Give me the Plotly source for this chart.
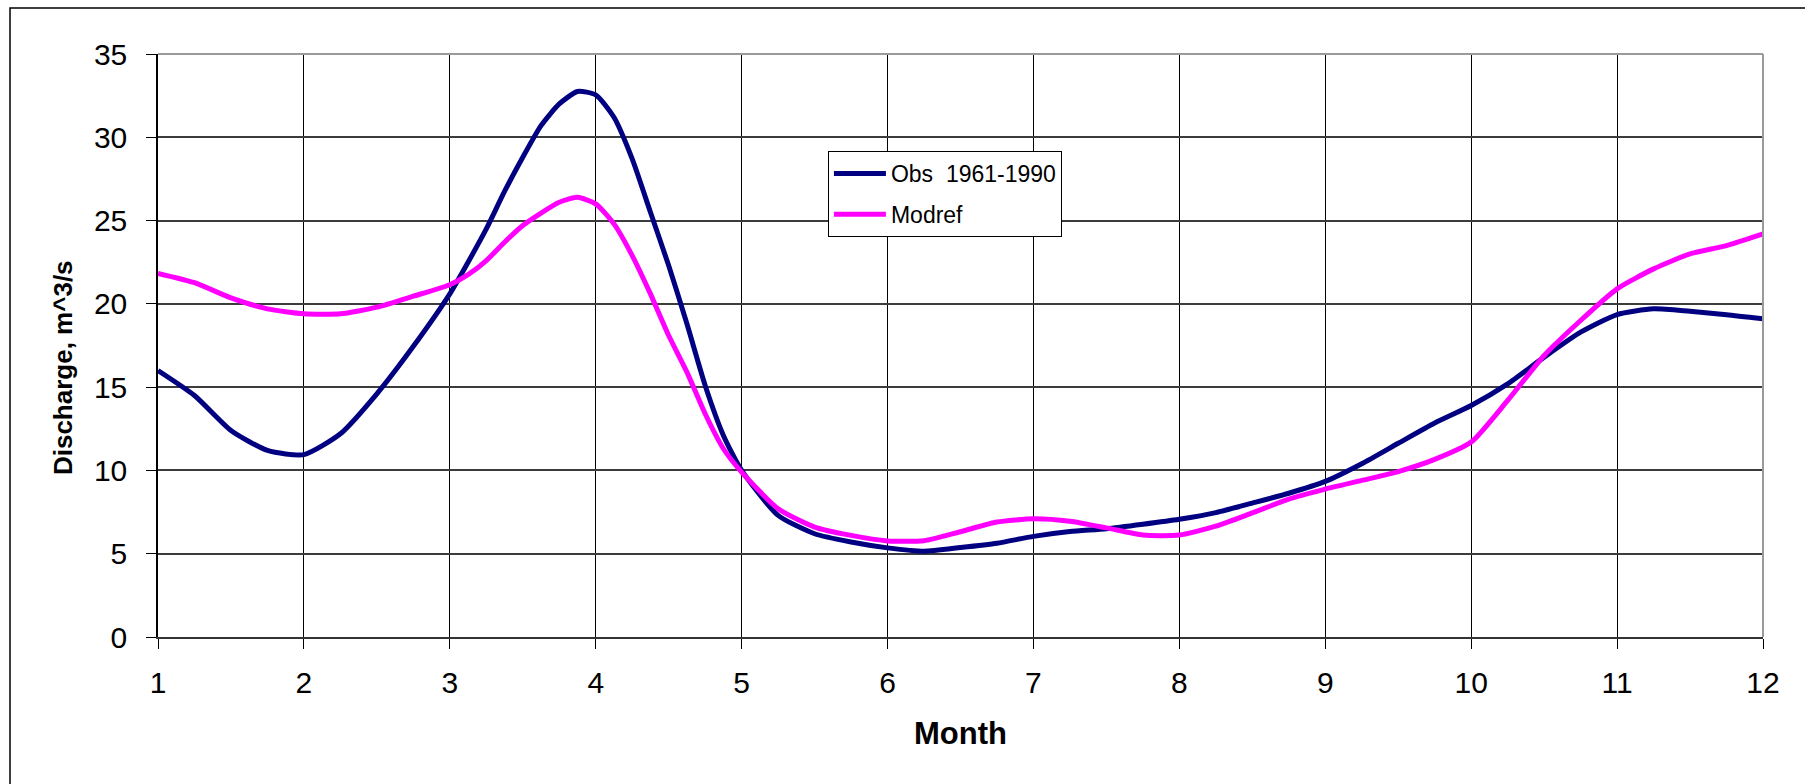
import plotly.graph_objects as go

# Month positions (fractional months) and mean discharge values, m^3/s
months = [1.0, 1.25, 1.5, 1.75, 2.0, 2.25, 2.5, 2.75,
          3.0, 3.125, 3.25, 3.375, 3.5, 3.625, 3.75, 3.875,
          4.0, 4.125, 4.25, 4.375, 4.5, 4.625, 4.75, 4.875,
          5.0, 5.25, 5.5, 5.75, 6.0, 6.25, 6.5, 6.75,
          7.0, 7.25, 7.5, 7.75, 8.0, 8.25, 8.5, 8.75,
          9.0, 9.25, 9.5, 9.75, 10.0, 10.25, 10.5, 10.75,
          11.0, 11.25, 11.5, 11.75, 12.0]

obs_1961_1990 = [16.0, 14.5, 12.4, 11.2, 10.95, 12.2, 14.6, 17.45,
                 20.6, 22.5, 24.5, 26.75, 28.8, 30.7, 32.0, 32.75,
                 32.55, 31.2, 28.7, 25.5, 22.3, 18.8, 15.1, 12.1,
                 10.0, 7.3, 6.2, 5.7, 5.35, 5.15, 5.37, 5.63,
                 6.04, 6.33, 6.5, 6.77, 7.07, 7.47, 8.04, 8.63,
                 9.34, 10.4, 11.63, 12.85, 13.9, 15.2, 16.8, 18.3,
                 19.36, 19.7, 19.55, 19.35, 19.1]

modref = [21.83, 21.27, 20.36, 19.7, 19.4, 19.4, 19.8, 20.46,
          21.15, 21.75, 22.6, 23.7, 24.7, 25.45, 26.1, 26.4,
          26.0, 24.8, 22.9, 20.6, 18.1, 15.9, 13.4, 11.3,
          9.9, 7.7, 6.6, 6.1, 5.77, 5.78, 6.32, 6.9,
          7.1, 6.95, 6.55, 6.12, 6.12, 6.65, 7.45, 8.28,
          8.88, 9.4, 9.93, 10.66, 11.7, 14.2, 16.9, 19.0,
          20.9, 22.1, 23.0, 23.5, 24.2]

series_names = ["Obs  1961-1990", "Modref"]
series_colors = ["#000080", "#FF00FF"]

month_ticks = list(range(1, 13))
discharge_ticks = list(range(0, 36, 5))

FONT = "Liberation Sans, Arial, sans-serif"

fig = go.Figure()
for i, (name, values, color) in enumerate(
        zip(series_names, [obs_1961_1990, modref], series_colors)):
    fig.add_trace(go.Scatter(
        x=months, y=values, mode="lines", name=name,
        legendgroup=f"g{i}",
        line=dict(color=color, width=5, shape="spline", smoothing=0.6),
    ))

fig.update_layout(
    width=1805, height=784,
    margin=dict(l=158, r=42, t=54, b=147),
    paper_bgcolor="white", plot_bgcolor="white",
    font=dict(family=FONT, color="black", size=30),
    showlegend=True,
    legend=dict(
        x=0.4174, y=0.8336, xanchor="left", yanchor="top",
        bgcolor="white", bordercolor="black", borderwidth=1,
        font=dict(family=FONT, size=23, color="black"),
        traceorder="grouped", tracegroupgap=8,
        itemwidth=52,
    ),
    xaxis=dict(
        range=[1, 12], tickvals=month_ticks, ticktext=[str(m) for m in month_ticks],
        showgrid=True, gridcolor="black", gridwidth=1,
        showline=True, linecolor="#333333", linewidth=2,
        ticks="outside", ticklen=10, tickwidth=1, tickcolor="black",
        ticklabelstandoff=8, zeroline=False,
        title=dict(text="<b>Month</b>", font=dict(family=FONT, size=31), standoff=24),
    ),
    yaxis=dict(
        range=[0, 35], tickvals=discharge_ticks,
        showgrid=True, gridcolor="#3c3c3c", gridwidth=1.5,
        showline=True, linecolor="black", linewidth=1.5,
        ticks="outside", ticklen=10, tickwidth=1, tickcolor="black",
        ticklabelstandoff=13, zeroline=False,
    ),
    annotations=[
        dict(text="<b>Discharge, m^3/s</b>", xref="paper", yref="paper",
             x=-0.0592, y=0.463, xanchor="center", yanchor="middle",
             textangle=-90, showarrow=False,
             font=dict(family=FONT, size=26, color="black")),
    ],
    shapes=[
        # grey frame on the top and right of the plotting area
        dict(type="line", xref="paper", yref="paper", x0=0, x1=1, y0=1, y1=1,
             line=dict(color="#9a9a9a", width=2)),
        dict(type="line", xref="paper", yref="paper", x0=1, x1=1, y0=0, y1=1,
             line=dict(color="#9a9a9a", width=2)),
        # outer chart border
        dict(type="rect", xref="paper", yref="paper",
             x0=-0.0922, x1=1.03, y0=-0.27, y1=1.0789,
             line=dict(color="black", width=1.5), layer="below"),
    ],
)

fig.write_html("out.html")
